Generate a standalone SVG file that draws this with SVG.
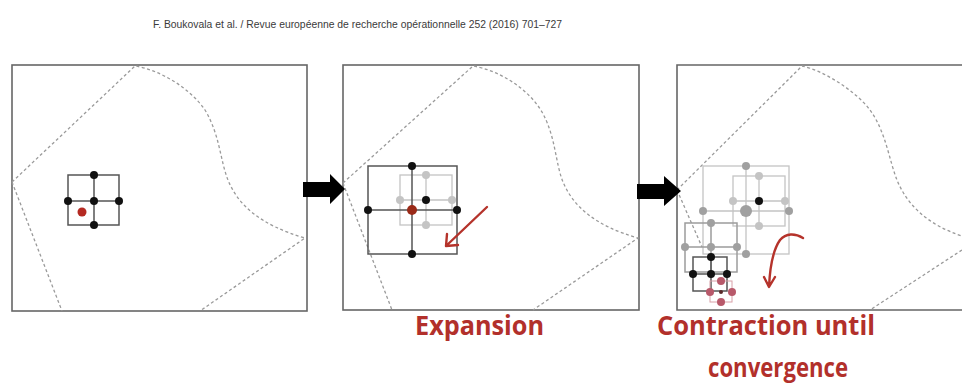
<svg xmlns="http://www.w3.org/2000/svg" width="962" height="385" viewBox="0 0 962 385">
  <style>
    .frame { fill: #fff; stroke: #666; stroke-width: 1.6; }
    .bound { fill: none; stroke: #9a9a9a; stroke-width: 1.3; stroke-dasharray: 3 2.5; }
    .g-dark { fill: none; stroke: #555; stroke-width: 1.5; }
    .g-mid { fill: none; stroke: #9c9c9c; stroke-width: 1.5; }
    .g-light { fill: none; stroke: #c4c4c4; stroke-width: 1.3; }
    .d-black { fill: #111; }
    .d-mid { fill: #a0a0a0; }
    .d-light { fill: #c4c4c4; }
    .d-red { fill: #b52a22; }
    .d-pink { fill: #b8596a; }
    .red-arrow { fill: none; stroke: #b5332b; stroke-width: 2.4; stroke-linecap: round; }
    .label { font-family: "Open Sans", "Liberation Sans", sans-serif; font-weight: bold; fill: #b2302b; }
    .header { font-family: "Liberation Sans", Arial, sans-serif; font-size: 11.5px; fill: #3a3a3a; }
  </style>

  <text class="header" x="153" y="28" textLength="409" lengthAdjust="spacingAndGlyphs">F. Boukovala et al. / Revue européenne de recherche opérationnelle 252 (2016) 701–727</text>

  <!-- Step 1: initial stencil -->
  <g id="panel-initial">
    <rect class="frame" x="12" y="65" width="295" height="246"/>
    <path class="bound" d="M12 182 L135 66 C160 70 190 88 205 110 C220 135 220 160 228 180 C238 205 260 225 305 238 L200 311 M12 182 L62 311"/>
    <rect class="g-dark" x="68" y="175" width="51" height="50"/>
    <path class="g-dark" d="M94 175 V225 M68 201 H119"/>
    <circle class="d-black" cx="94" cy="175" r="4"/>
    <circle class="d-black" cx="68" cy="201" r="4"/>
    <circle class="d-black" cx="94" cy="201" r="4"/>
    <circle class="d-black" cx="119" cy="201" r="4"/>
    <circle class="d-black" cx="94" cy="225" r="4"/>
    <circle class="d-red" cx="82" cy="212" r="4.5"/>
  </g>

  <!-- Step 2: expansion -->
  <g id="panel-expansion">
    <rect class="frame" x="343" y="65" width="296" height="245"/>
    <path class="bound" d="M343 183 L473 66 C498 70 528 88 542 112 C556 137 555 162 563 182 C573 206 595 226 638 238 L533 310 M343 183 L392 310"/>
    <rect class="g-light" x="400" y="175" width="52" height="50"/>
    <path class="g-light" d="M426 175 V225 M400 200 H452"/>
    <rect class="g-dark" x="368" y="166" width="89" height="88"/>
    <path class="g-dark" d="M412 166 V254 M368 210 H457"/>
    <circle class="d-light" cx="426" cy="175" r="4"/>
    <circle class="d-light" cx="400" cy="200" r="4"/>
    <circle class="d-light" cx="452" cy="200" r="4"/>
    <circle class="d-light" cx="426" cy="225" r="4"/>
    <circle class="d-black" cx="426" cy="200" r="4"/>
    <circle class="d-black" cx="412" cy="166" r="4"/>
    <circle class="d-black" cx="368" cy="210" r="4"/>
    <circle class="d-black" cx="457" cy="210" r="4"/>
    <circle class="d-black" cx="412" cy="254" r="4"/>
    <circle cx="412" cy="210" r="5" fill="#9a2a18"/>
    <path class="red-arrow" d="M487 207 L446 246 M446 246 L447 234 M446 246 L458 245"/>
    <text class="label" x="415" y="335" font-size="26" textLength="129" lengthAdjust="spacingAndGlyphs">Expansion</text>
  </g>

  <!-- Step 3: contraction -->
  <g id="panel-contraction">
    <path class="frame" d="M963 65 H677 V310 H963"/>
    <path class="bound" d="M677 190 L802 66 C822 70 855 90 870 110 C886 132 889 160 897 180 C907 205 928 225 962 236 M962 250 L870 310 M677 190 L702 247"/>
    <!-- earlier, larger stencils -->
    <rect class="g-light" x="703" y="166" width="86" height="88"/>
    <path class="g-light" d="M746 166 V254 M703 211 H789"/>
    <rect class="g-light" x="733" y="176" width="52" height="50"/>
    <path class="g-light" d="M759 176 V226 M733 201 H785"/>
    <circle class="d-mid" cx="746" cy="166" r="4"/>
    <circle class="d-mid" cx="703" cy="211" r="4"/>
    <circle class="d-mid" cx="789" cy="211" r="4"/>
    <circle class="d-mid" cx="746" cy="254" r="4"/>
    <circle class="d-mid" cx="746" cy="211" r="6"/>
    <circle class="d-light" cx="759" cy="176" r="4"/>
    <circle class="d-light" cx="733" cy="201" r="4"/>
    <circle class="d-light" cx="785" cy="201" r="4"/>
    <circle class="d-light" cx="759" cy="226" r="4"/>
    <circle class="d-black" cx="759" cy="201" r="4"/>
    <!-- mid stencil -->
    <rect class="g-mid" x="685" y="223" width="52" height="49"/>
    <path class="g-mid" d="M711 223 V272 M685 247 H737"/>
    <circle class="d-mid" cx="711" cy="223" r="4"/>
    <circle class="d-mid" cx="685" cy="247" r="4"/>
    <circle class="d-mid" cx="737" cy="247" r="4"/>
    <circle class="d-mid" cx="711" cy="247" r="4"/>
    <!-- current stencil -->
    <rect class="g-dark" x="693" y="257" width="34" height="34"/>
    <path class="g-dark" d="M711 257 V291 M693 274 H727"/>
    <circle class="d-black" cx="711" cy="257" r="4"/>
    <circle class="d-black" cx="693" cy="274" r="4"/>
    <circle class="d-black" cx="711" cy="274" r="4"/>
    <circle class="d-black" cx="727" cy="274" r="4"/>
    <!-- converged stencil -->
    <rect x="710" y="281" width="22" height="21" fill="none" stroke="#d8a0a8" stroke-width="1"/>
    <circle class="d-pink" cx="721" cy="281" r="4"/>
    <circle class="d-pink" cx="710" cy="292" r="4"/>
    <circle class="d-pink" cx="732" cy="292" r="4"/>
    <circle class="d-pink" cx="721" cy="302" r="4"/>
    <circle cx="721" cy="292" r="2" fill="#5a2a2a"/>
    <path class="red-arrow" stroke="#a8221c" d="M803 238 C795 233 786 233 780 240 C773 250 770 265 769 287 M769 287 L764 277 M769 287 L775 277"/>
    <text class="label" x="657" y="335" font-size="26" textLength="218" lengthAdjust="spacingAndGlyphs">Contraction until</text>
    <text class="label" x="708" y="377" font-size="26" textLength="140" lengthAdjust="spacingAndGlyphs">convergence</text>
  </g>

  <!-- step-to-step arrows -->
  <g id="connectors" fill="#000">
    <path d="M303 182 H330 V174 L345 189 L330 204 V197 H303 Z"/>
    <path d="M637 184 H664 V176 L681 191 L664 206 V199 H637 Z"/>
  </g>
</svg>
